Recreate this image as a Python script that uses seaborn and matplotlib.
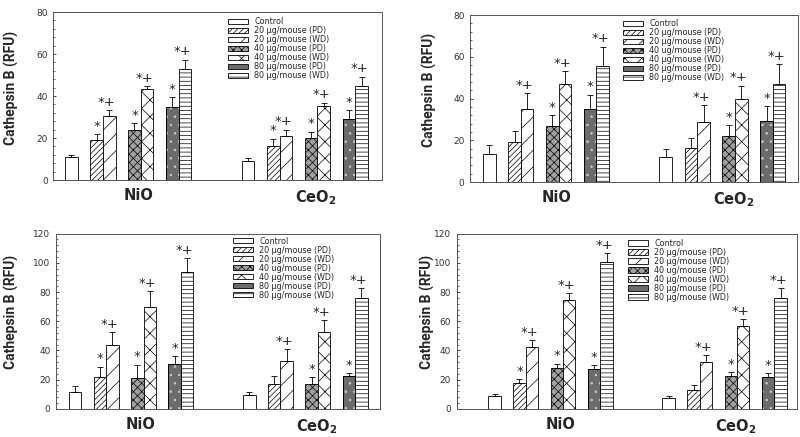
import numpy as np
import pandas as pd
import seaborn as sns
from matplotlib import pyplot as plt
from matplotlib.patches import Patch
from matplotlib.ticker import MultipleLocator, AutoMinorLocator

# %%
# datos: orden Control, 20PD, 20WD, 40PD, 40WD, 80PD, 80WD
series = ['Control', '20 PD', '20 WD', '40 PD', '40 WD', '80 PD', '80 WD']
grupos = ['NiO', 'CeO$_\\mathbf{2}$']
posiciones = [0, 2, 3, 5, 6, 8, 9, 14, 16, 17, 19, 20, 22, 23]

p1_nio = [11.2, 19.1, 30.4, 23.9, 43.2, 34.9, 53.1]
p1_nio_err = [0.8, 2.7, 2.8, 3.1, 1.5, 4.5, 4.3]
p1_ceo = [9.3, 16.4, 21.2, 19.9, 35.1, 29.1, 44.9]
p1_ceo_err = [1.3, 3.2, 2.8, 3.2, 1.7, 4.3, 4.3]

p2_nio = [13.5, 19.4, 34.9, 26.9, 47.0, 34.9, 55.6]
p2_nio_err = [4.3, 5.0, 7.7, 5.1, 6.1, 7.0, 9.3]
p2_ceo = [11.8, 16.1, 28.8, 22.0, 40.0, 29.2, 47.0]
p2_ceo_err = [4.0, 4.8, 7.9, 5.1, 6.2, 7.0, 9.4]

p3_nio = [11.2, 21.9, 43.7, 21.3, 69.5, 30.6, 93.5]
p3_nio_err = [4.1, 6.9, 8.9, 8.9, 11.0, 5.3, 9.6]
p3_ceo = [9.4, 17.1, 32.5, 16.7, 52.3, 22.6, 76.1]
p3_ceo_err = [2.3, 5.5, 8.4, 4.8, 8.3, 1.6, 6.4]

p4_nio = [8.9, 17.4, 42.1, 28.1, 74.3, 27.0, 100.3]
p4_nio_err = [1.2, 2.7, 4.8, 2.8, 4.8, 2.9, 6.2]
p4_ceo = [7.1, 12.8, 32.2, 22.4, 56.7, 21.5, 76.1]
p4_ceo_err = [1.4, 3.2, 4.6, 2.7, 4.8, 2.7, 6.6]

marcas_todas = ['', '*', '*+', '*', '*+', '*', '*+']
marcas_sin20 = ['', '', '*+', '*', '*+', '*', '*+']

leyenda_ug = ['Control', '20 µg/mouse (PD)', '20 µg/mouse (WD)', '40 µg/mouse (PD)',
              '40 µg/mouse (WD)', '80 µg/mouse (PD)', '80 µg/mouse (WD)']
leyenda_u = ['Control', '20 µg/mouse (PD)', '20 µg/mouse (WD)', '40 ug/mouse (PD)',
             '40 µg/mouse (WD)', '80 µg/mouse (PD)', '80 µg/mouse (WD)']

# estilo de cada serie: (relleno, trama)
estilos = [('white', None), ('white', '//////'), ('white', '//'), ('#a0a0a0', 'xxxx'),
           ('white', 'xx'), ('#6b6b6b', None), ('white', '----')]

paneles = [
    dict(nio=p1_nio, nio_err=p1_nio_err, ceo=p1_ceo, ceo_err=p1_ceo_err,
         m_nio=marcas_todas, m_ceo=marcas_todas, ymax=80, ley=leyenda_ug,
         rect=[0.0667, 0.588, 0.4105, 0.3844], xlim=(-1.43, 24.6),
         ylab_x=-0.104, ley_pos=(0.532, 0.97)),
    dict(nio=p2_nio, nio_err=p2_nio_err, ceo=p2_ceo, ceo_err=p2_ceo_err,
         m_nio=marcas_sin20, m_ceo=marcas_sin20, ymax=80, ley=leyenda_u,
         rect=[0.5875, 0.5835, 0.41, 0.382], xlim=(-1.54, 24.5),
         ylab_x=-0.10, ley_pos=(0.466, 0.976)),
    dict(nio=p3_nio, nio_err=p3_nio_err, ceo=p3_ceo, ceo_err=p3_ceo_err,
         m_nio=marcas_todas, m_ceo=marcas_sin20, ymax=120, ley=leyenda_u,
         rect=[0.07, 0.0648, 0.405, 0.4005], xlim=(-1.53, 24.5),
         ylab_x=-0.114, ley_pos=(0.546, 0.983)),
    dict(nio=p4_nio, nio_err=p4_nio_err, ceo=p4_ceo, ceo_err=p4_ceo_err,
         m_nio=marcas_todas, m_ceo=marcas_sin20, ymax=120, ley=leyenda_u,
         rect=[0.5709, 0.0648, 0.425, 0.4005], xlim=(-3.05, 24.3),
         ylab_x=-0.065, ley_pos=(0.504, 0.97)),
]

# %%
sns.set_style('ticks')
plt.rcParams['hatch.linewidth'] = 0.5
plt.rcParams['font.family'] = ['DejaVu Sans']

fig = plt.figure(figsize=(8, 4.37), dpi=100)

for p in paneles:
    ax = fig.add_axes(p['rect'])
    df = pd.DataFrame({'pos': posiciones,
                       'val': p['nio'] + p['ceo'],
                       'err': p['nio_err'] + p['ceo_err'],
                       'serie': series * 2,
                       'marca': p['m_nio'] + p['m_ceo']})
    sns.barplot(data=df, x='pos', y='val', native_scale=True, width=1,
                color='white', edgecolor='black', linewidth=0.6,
                errorbar=None, ax=ax)
    for barra, serie in zip(ax.patches, df['serie']):
        cara, trama = estilos[series.index(serie)]
        barra.set_facecolor(cara)
        barra.set_hatch(trama)
        barra.set_edgecolor('black')
    # puntos claros en la serie 80 PD
    d80 = df[df['serie'] == '80 PD']
    ax.bar(d80['pos'], d80['val'], width=1, facecolor='none', edgecolor='#cfcfcf',
           hatch='..', linewidth=0, zorder=3)
    ax.bar(d80['pos'], d80['val'], width=1, facecolor='none', edgecolor='black',
           linewidth=0.6, zorder=3)

    ax.errorbar(df['pos'], df['val'], yerr=[np.zeros(len(df)), df['err']],
                fmt='none', ecolor='black', elinewidth=0.6, capsize=2.2,
                capthick=0.6, zorder=1)

    for x, y, e, m in zip(df['pos'], df['val'], df['err'], df['marca']):
        if m == '*':
            ax.annotate(m, (x, y + e), xytext=(0, 1), textcoords='offset points',
                        ha='center', va='bottom', fontsize=9.5)
        elif m == '*+':
            ax.annotate(m, (x - 0.2, y + e), xytext=(0, 1), textcoords='offset points',
                        ha='center', va='bottom', fontsize=9.5)

    ax.set_xlim(*p['xlim'])
    ax.set_ylim(0, p['ymax'])
    ax.yaxis.set_major_locator(MultipleLocator(20))
    ax.yaxis.set_minor_locator(AutoMinorLocator(5))
    ax.tick_params(axis='y', which='major', direction='in', length=2.5, width=0.6,
                   labelsize=6.5, labelcolor='#333333', pad=4)
    ax.tick_params(axis='y', which='minor', direction='in', length=1.5, width=0.5)
    ax.set_xticks([5.3, 19.4])
    ax.set_xticklabels(grupos, fontsize=10.5, fontweight='bold')
    ax.tick_params(axis='x', length=0, pad=6)
    ax.set_xlabel('')
    ax.set_ylabel('Cathepsin B (RFU)', fontsize=10, fontweight='bold',
                  family=['Roboto', 'DejaVu Sans'])
    ax.yaxis.set_label_coords(p['ylab_x'], 0.55)
    for s in ax.spines.values():
        s.set_color('#555555')
        s.set_linewidth(0.7)

    manejadores = [Patch(facecolor=c, hatch=h, edgecolor='black', linewidth=0.6)
                   for c, h in estilos]
    ax.legend(manejadores, p['ley'], loc='upper left', bbox_to_anchor=p['ley_pos'],
              frameon=False, fontsize=5.8, handlelength=2.5, handleheight=0.62,
              labelspacing=0.0, handletextpad=0.75, borderpad=0, borderaxespad=0)

fig.savefig('out.png', dpi=100)
